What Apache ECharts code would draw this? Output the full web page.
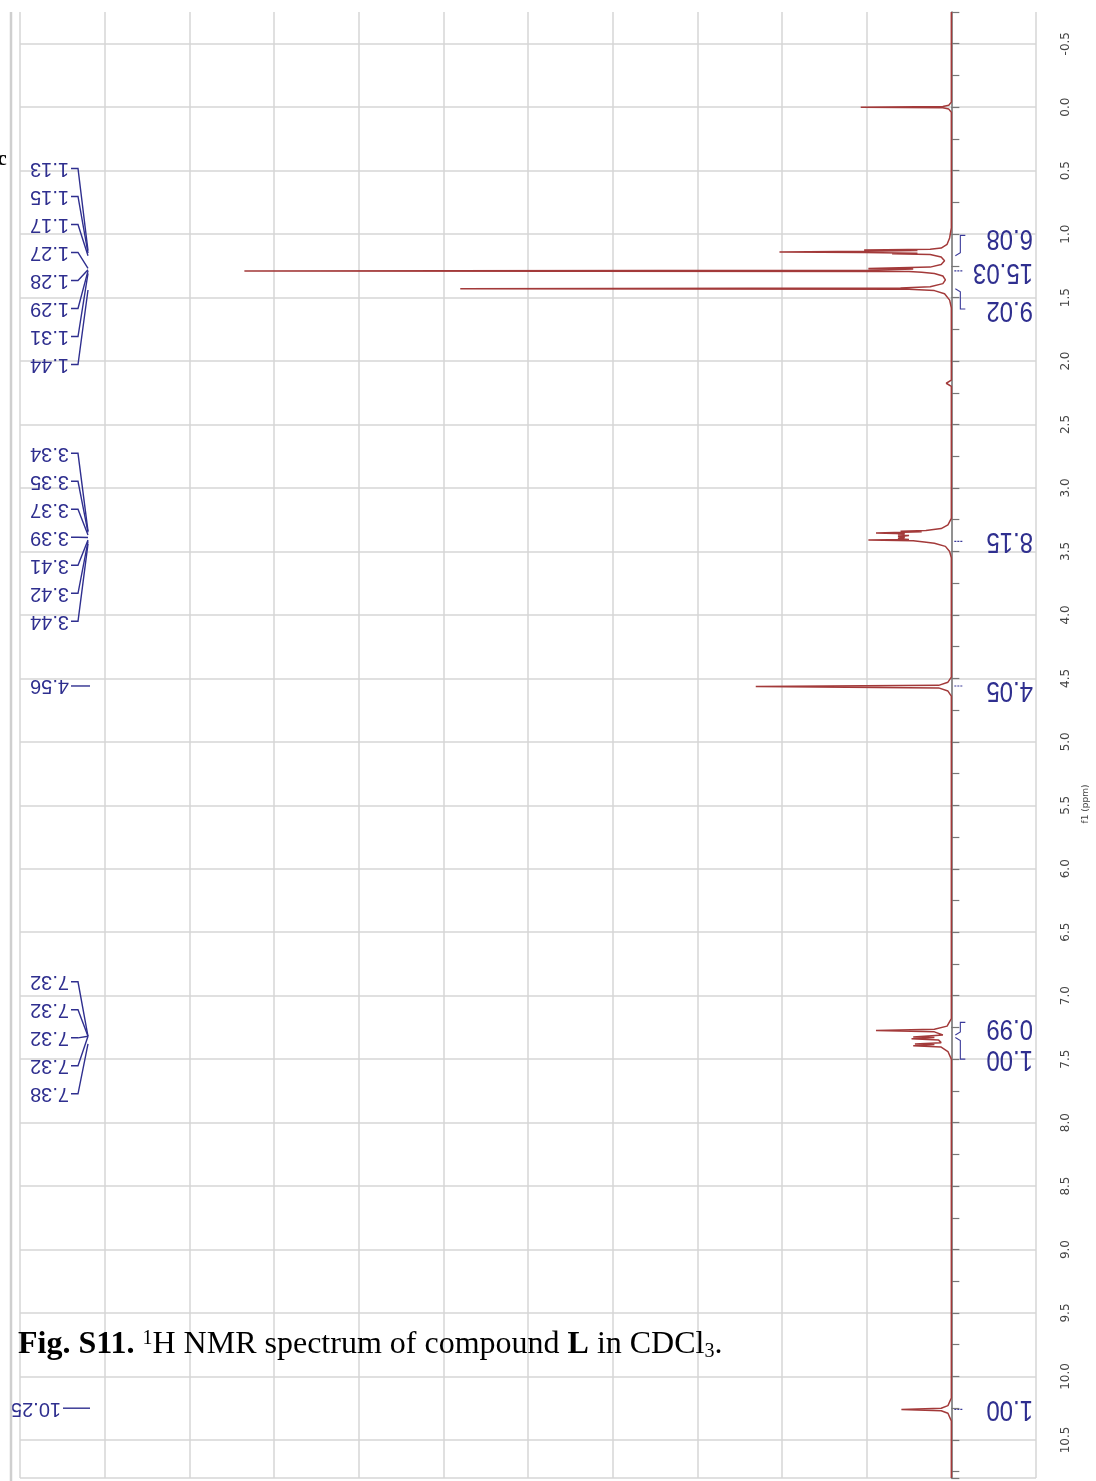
<!DOCTYPE html>
<html>
<head>
<meta charset="utf-8">
<script src="https://cdn.jsdelivr.net/npm/echarts@6/dist/echarts.min.js"></script>
<style>
html,body{margin:0;padding:0;background:#fff;}
#chart{width:1096px;height:1481px;}
</style>
</head>
<body>
<div id="chart"></div>
<script>
// ---- DATA ----
// chemical shift (ppm) of each spectrum point, and its intensity (grid divisions)
const spectrumPpm = [
  -0.75, -0.04, -0.015, -0.005, 0.0, 0.005, 0.015, 0.04,
  0.95, 1.03, 1.08, 1.11, 1.12, 1.125, 1.13, 1.135, 1.14, 1.145, 1.15, 1.155, 1.16, 1.18, 1.21,
  1.24, 1.26, 1.27, 1.275, 1.28, 1.285, 1.29, 1.295, 1.30, 1.31, 1.33, 1.36, 1.39,
  1.415, 1.425, 1.43, 1.435, 1.445, 1.47, 1.52, 1.58,
  2.15, 2.175, 2.2,
  3.24, 3.29, 3.32, 3.335, 3.34, 3.345, 3.355, 3.36, 3.37, 3.375, 3.385, 3.39, 3.40, 3.405, 3.41, 3.415, 3.425, 3.435, 3.46, 3.5, 3.55,
  4.49, 4.53, 4.555, 4.565, 4.575, 4.60, 4.64,
  7.18, 7.24, 7.265, 7.275, 7.285, 7.31, 7.325, 7.33, 7.34, 7.35, 7.37, 7.38, 7.385, 7.395, 7.405, 7.44, 7.5,
  10.17, 10.23, 10.25, 10.26, 10.27, 10.29, 10.35, 10.8
];
const spectrumInt = [
  0, 0, 0.03, 0.1, 1.07, 0.1, 0.03, 0,
  0, 0.02, 0.05, 0.12, 0.25, 1.03, 0.4, 1.0, 2.03, 1.03, 0.4, 0.7, 0.25, 0.12, 0.08,
  0.12, 0.25, 0.98, 0.45, 0.75, 0.98, 8.35, 0.5, 0.35, 0.2, 0.1, 0.07, 0.1,
  0.25, 0.6, 5.8, 0.5, 0.2, 0.08, 0.02, 0,
  0, 0.06, 0,
  0, 0.04, 0.12, 0.3, 0.6, 0.35, 0.89, 0.55, 0.63, 0.5, 0.63, 0.55, 0.63, 0.5, 0.98, 0.45, 0.32, 0.2, 0.07, 0.02, 0,
  0, 0.04, 0.15, 2.31, 0.15, 0.04, 0,
  0, 0.05, 0.2, 0.89, 0.2, 0.1, 0.45, 0.2, 0.47, 0.15, 0.12, 0.43, 0.2, 0.45, 0.12, 0.04, 0,
  0, 0.04, 0.12, 0.59, 0.12, 0.04, 0, 0
];
// peak-pick labels (stacked groups and single labels)
const peakGroupA = [1.13, 1.15, 1.17, 1.27, 1.28, 1.29, 1.31, 1.44];
const peakGroupB = [3.34, 3.35, 3.37, 3.39, 3.41, 3.42, 3.44];
const peakGroupC = [7.32, 7.32, 7.32, 7.32, 7.38];
const peakSingles = [4.56, 10.25];
// integrals
const integralValues = ['6.08', '15.03', '9.02', '8.15', '4.05', '0.99', '1.00', '1.00'];
const integralLabelPpm = [1.03, 1.30, 1.60, 3.42, 4.59, 7.26, 7.50, 10.26];
const integralRangeStart = [1.17, 1.29, 1.43, 3.42, 4.56, 7.31, 7.33, 10.26];
const integralRangeEnd   = [1.01, 1.29, 1.59, 3.42, 4.56, 7.21, 7.50, 10.26];
// axis
const ppmMin = -0.75, ppmMax = 10.8;
const intMin = -1, intMax = 11;

// ---- CHART ----
const chart = echarts.init(document.getElementById('chart'), null, {renderer: 'canvas'});
const spectrumData = spectrumPpm.map((p, i) => [spectrumInt[i], p]);

const option = {
  animation: false,
  backgroundColor: '#fff',
  grid: {left: 20, right: 60, top: 12, bottom: 0, containLabel: false},
  xAxis: {
    type: 'value', min: intMin, max: intMax, interval: 1, inverse: true,
    axisLine: {show: false}, axisTick: {show: false}, axisLabel: {show: false},
    splitLine: {show: true, lineStyle: {color: '#d6d6d6', width: 1.5}}
  },
  yAxis: {
    type: 'value', min: ppmMin, max: ppmMax, interval: 0.25, inverse: true, position: 'right',
    axisLine: {show: true, lineStyle: {color: '#777', width: 1.5}},
    axisTick: {show: true, length: 8, lineStyle: {color: '#777', width: 1.2}},
    axisLabel: {
      show: true, rotate: 90, margin: 24, color: '#444', fontSize: 12, fontFamily: 'DejaVu Sans',
      formatter: function (v) {
        const d = v * 2;
        if (Math.abs(d - Math.round(d)) > 1e-6 || v > 10.6) return '';
        return v.toFixed(1);
      }
    },
    splitLine: {show: true, lineStyle: {color: ['rgba(0,0,0,0)', '#d6d6d6'], width: 1.5}}
  },
  series: [{
    type: 'line', data: spectrumData, showSymbol: false, symbol: 'none',
    lineStyle: {color: '#a33a3a', width: 1.5}, z: 5
  }]
};
chart.setOption(option);

// ---- annotation graphics (placed through the axis scales) ----
function px(intensity, ppm) { return chart.convertToPixel({gridIndex: 0}, [intensity, ppm]); }
const labelColor = '#2f2f8f';
const g = [];
const labelRight = 69, hookX = 78, meetX = 88;
function addStack(values) {
  const mean = values.reduce((a, b) => a + b, 0) / values.length;
  const cy = px(0, mean)[1];
  const step = 28;
  values.forEach((v, i) => {
    const ly = cy + (i - (values.length - 1) / 2) * step;
    const py = px(0, v)[1];
    g.push({type: 'text', x: labelRight, y: ly, rotation: Math.PI,
      style: {text: v.toFixed(2), font: '20px "Liberation Sans"', fill: labelColor, textAlign: 'left', textVerticalAlign: 'middle'}});
    g.push({type: 'polyline', shape: {points: [[labelRight + 2, ly], [hookX, ly], [meetX, py]]},
      style: {stroke: labelColor, lineWidth: 1.4, fill: null}});
  });
}
addStack(peakGroupA);
addStack(peakGroupB);
addStack(peakGroupC);
peakSingles.forEach(v => {
  const py = px(0, v)[1];
  const right = v >= 10 ? 61 : labelRight;
  g.push({type: 'text', x: right, y: py, rotation: Math.PI,
    style: {text: v.toFixed(2), font: '20px "Liberation Sans"', fill: labelColor, textAlign: 'left', textVerticalAlign: 'middle'}});
  g.push({type: 'line', shape: {x1: right + 2, y1: py, x2: meetX + 2, y2: py},
    style: {stroke: labelColor, lineWidth: 1.4}});
});
// integrals
integralValues.forEach((t, i) => {
  const ly = px(0, integralLabelPpm[i])[1];
  const p0 = px(0, integralRangeStart[i]);
  const p1 = px(0, integralRangeEnd[i]);
  const bx = p0[0] + 9;
  g.push({type: 'text', x: 1033, y: ly, rotation: Math.PI, scaleY: 1.25,
    style: {text: t, font: '24px "Liberation Sans"', fill: labelColor, textAlign: 'left', textVerticalAlign: 'middle'}});
  if (Math.abs(p1[1] - p0[1]) < 1) {
    g.push({type: 'line', shape: {x1: p0[0] + 3, y1: p0[1], x2: p0[0] + 11, y2: p0[1]},
      style: {stroke: '#3a3a9a', lineWidth: 1.2, lineDash: [2, 1]}});
  } else {
    g.push({type: 'polyline', shape: {points: [[p0[0] + 4, p0[1]], [bx, p0[1] + (p1[1] > p0[1] ? 3 : -3)], [bx, p1[1]], [bx + 5, p1[1]]]},
      style: {stroke: '#3a3a9a', lineWidth: 1.1, fill: null}});
  }
});
// axis name
g.push({type: 'text', x: 1086, y: 804, rotation: Math.PI / 2,
  style: {text: 'f1 (ppm)', font: '9px "DejaVu Sans"', fill: '#444', textAlign: 'center', textVerticalAlign: 'middle'}});
// page border line at left
g.push({type: 'line', shape: {x1: 11, y1: 12, x2: 11, y2: 1481}, style: {stroke: '#cfcfcf', lineWidth: 2.5}});
// stray cropped character
g.push({type: 'text', x: -3, y: 148, style: {text: 'c', font: 'bold 22px "Liberation Serif"', fill: '#000'}});
// caption
g.push({type: 'text', x: 18, y: 1326, z: 100,
  style: {
    text: '{b|Fig. S11.} {sup|1}{n|H NMR spectrum of compound }{b|L}{n| in CDCl}{sub|3}{n|.}',
    font: '32px "Liberation Serif"', fill: '#000',
    rich: {
      b: {fontFamily: 'Liberation Serif', fontWeight: 'bold', fontSize: 32, lineHeight: 38, verticalAlign: 'middle'},
      n: {fontFamily: 'Liberation Serif', fontSize: 32, lineHeight: 38, verticalAlign: 'middle'},
      sup: {fontFamily: 'Liberation Serif', fontSize: 20, lineHeight: 38, verticalAlign: 'top', padding: [3, 0, 0, 0]},
      sub: {fontFamily: 'Liberation Serif', fontSize: 20, lineHeight: 38, verticalAlign: 'bottom', padding: [0, 0, 2, 0]}
    }
  }});
chart.setOption({graphic: g});
</script>
</body>
</html>
